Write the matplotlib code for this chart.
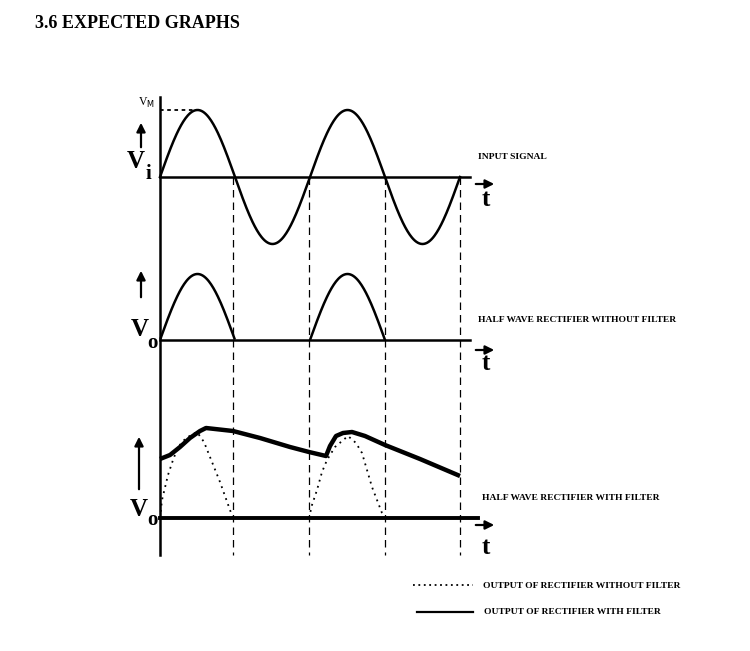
import numpy as np
import matplotlib.pyplot as plt

# everything is laid out in pixel units of the 750x651 page
crossings = [160, 233, 309, 385, 460]      # zero crossings of the input (x)
base = [177, 340, 518]                      # baselines of the three traces (y)
vm_in = 67                                  # input peak
vm_hw = 66                                  # half wave peak

# rectifier output without filter (dotted, bottom panel)
dot1_x = [160, 162, 168, 173, 178, 186, 197, 204, 210, 220, 230, 233]
dot1_y = [518, 500, 475, 460, 447, 438, 432, 442, 457, 482, 510, 518]
dot2_x = [309, 312, 317, 322, 327, 335, 348, 356, 362, 372, 382, 385]
dot2_y = [518, 505, 490, 472, 460, 447, 436, 443, 453, 487, 513, 518]

# rectifier output with filter (thick solid)
filt_x = [160, 170, 180, 190, 200, 206, 215, 233, 260, 290, 309, 326, 330, 336, 343, 352, 365, 385, 420, 460]
filt_y = [459, 455, 447, 438, 431, 428, 429, 431, 438, 447, 452, 456, 446, 436, 433, 432, 436, 445, 459, 476]

serif = 'Liberation Serif'

fig = plt.figure(figsize=(7.5, 6.51), dpi=100)
ax = fig.add_axes([0, 0, 1, 1])
ax.set_xlim(0, 750)
ax.set_ylim(651, 0)
ax.axis('off')

fig.text(35/750, 1 - 24/651, '3.6 EXPECTED GRAPHS', fontsize=13, fontweight='bold',
         family=serif, va='center', ha='left')

# vertical axis
ax.plot([160, 160], [97, 555], color='black', lw=1.8)

# dashed guides
for xc in crossings[1:]:
    ax.plot([xc, xc], [base[0], 555], color='black', lw=0.9, ls=(0, (6, 4)))

# input signal
x = np.linspace(crossings[0], crossings[-1], 400)
half = (crossings[-1] - crossings[0]) / 4
vin = vm_in * np.sin(np.pi * (x - crossings[0]) / half)
ax.plot(x, base[0] - vin, color='black', lw=1.8)
ax.plot([160, 470], [base[0], base[0]], color='black', lw=1.8)
ax.plot([160, 197], [base[0] - vm_in] * 2, color='black', lw=1.3, ls=(0, (2, 2)))
ax.text(146, 103, 'V$_{\\mathrm{M}}$', fontsize=8.5, family=serif, ha='center', va='center')

# half wave without filter
vhw = np.where(vin > 0, vin * vm_hw / vm_in, np.nan)
ax.plot(x, base[1] - vhw, color='black', lw=1.8)
ax.plot([160, 470], [base[1], base[1]], color='black', lw=1.8)

# with filter
ax.plot([160, 478], [base[2], base[2]], color='black', lw=2.8)
ax.plot(dot1_x, dot1_y, color='black', lw=1.3, ls=(0, (1, 2.5)))
ax.plot(dot2_x, dot2_y, color='black', lw=1.3, ls=(0, (1, 2.5)))
ax.plot(filt_x, filt_y, color='black', lw=3.2, solid_capstyle='butt')

# y labels and up arrows
ylab = [(141, 150, 120, 136, 161, 148, 174, 'i'),
        (141, 300, 268, 140, 330, 152, 343, 'o'),
        (139, 492, 434, 139, 509, 152, 520, 'o')]
for ax_x, y0, y1, lx, ly, sx, sy, sub in ylab:
    ax.annotate('', xy=(ax_x, y1), xytext=(ax_x, y0),
                arrowprops=dict(arrowstyle='-|>', color='black', lw=1.6, mutation_scale=13))
    ax.text(lx, ly, 'V', fontsize=18, fontweight='bold', family=serif, ha='center', va='center')
    ax.text(sx, sy, sub, fontsize=15, fontweight='bold', family=serif, ha='center', va='center')

# t arrows
for ya, yt in [(184, 199), (350, 364), (525, 547)]:
    ax.annotate('', xy=(497, ya), xytext=(473, ya),
                arrowprops=dict(arrowstyle='-|>', color='black', lw=1.6, mutation_scale=13))
    ax.text(486, yt, 't', fontsize=18, fontweight='bold', family=serif, ha='center', va='center')

# panel titles
titles = [(478, 157, 'INPUT SIGNAL'), (478, 320, 'HALF WAVE RECTIFIER WITHOUT FILTER'),
          (482, 498, 'HALF WAVE RECTIFIER WITH FILTER')]
for tx, ty, s in titles:
    ax.text(tx, ty, s, fontsize=6.8, fontweight='bold', family=serif, ha='left', va='center')

# legend
ax.plot([413, 473], [585, 585], color='black', lw=1.3, ls=(0, (1, 2)))
ax.text(483, 586, 'OUTPUT OF RECTIFIER WITHOUT FILTER', fontsize=6.8, fontweight='bold',
        family=serif, ha='left', va='center')
ax.plot([417, 473], [612, 612], color='black', lw=1.6)
ax.text(484, 612, 'OUTPUT OF RECTIFIER WITH FILTER', fontsize=6.8, fontweight='bold',
        family=serif, ha='left', va='center')

fig.savefig('out.png', dpi=100)
